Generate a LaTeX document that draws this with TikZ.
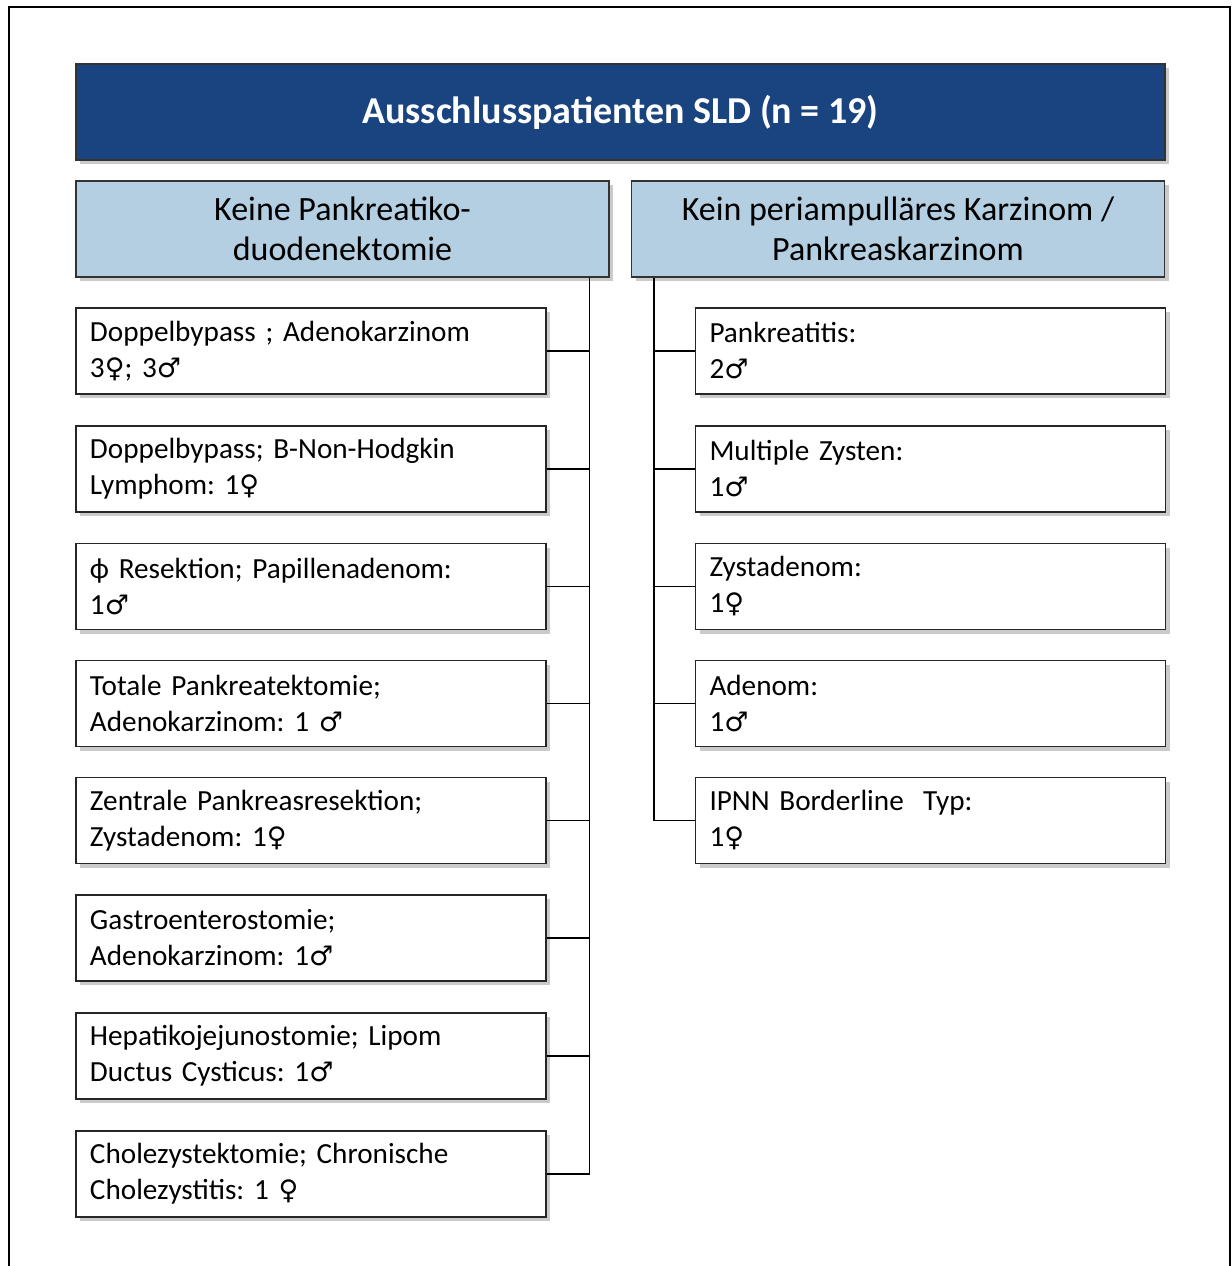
\documentclass[tikz,border=0pt]{standalone}
\usepackage{fontspec}
\setmainfont{Carlito}
\newfontfamily\symfont{DejaVu Sans}
\usetikzlibrary{shadows}
\newcommand\gfem{{\symfont\fontsize{13.5}{18}\selectfont ♀}}
\newcommand\gmal{{\symfont\fontsize{13.5}{18}\selectfont ♂}}
\definecolor{hdrblue}{HTML}{1A4480}
\definecolor{subblue}{HTML}{B4CFE1}
\frenchspacing
\tikzset{
  myshadow/.style={drop shadow={shadow xshift=2pt,shadow yshift=-2pt,opacity=0.35,fill=black!60}},
  hdrbox/.style={draw=black!80,fill=hdrblue,line width=0.6pt,minimum width=544.5pt,minimum height=48pt,
    text=white,font=\fontsize{19}{22}\selectfont\bfseries,myshadow},
  subbox/.style={draw=black!80,fill=subblue,line width=0.6pt,minimum width=266.5pt,minimum height=48pt,
    align=center,font=\fontsize{17}{20}\selectfont,myshadow},
  leafbox/.style={draw=black!85,fill=white,line width=0.6pt,minimum height=43pt,text width=221pt,
    inner xsep=7pt,inner ysep=0pt,align=left,font=\fontsize{14.6}{18}\selectfont,myshadow},
  conn/.style={draw=black,line width=0.6pt}
}
\begin{document}
\begin{tikzpicture}[x=0.5pt,y=-0.5pt]
\useasboundingbox (0,0) rectangle (1232,1266);
\draw[line width=1pt] (9,1270) -- (9,7) -- (1230,7) -- (1230,1270);
\node[hdrbox] (hdr) at (620.5,112) {Ausschlusspatienten SLD (n = 19)};
\node[subbox] (ls) at (342.5,229) {Keine Pankreatiko-\\duodenektomie};
\node[subbox] (rs) at (898,229) {Kein periampulläres Karzinom /\\Pankreaskarzinom};
\node[leafbox] (l1) at (311,351) {Doppelbypass ; Adenokarzinom\\3\gfem; 3\gmal};
\node[leafbox] (l2) at (311,469) {Doppelbypass; B-Non-Hodgkin\\Lymphom: 1\gfem};
\node[leafbox] (l3) at (311,586.5) {ϕ Resektion; Papillenadenom:\\1\gmal};
\node[leafbox] (l4) at (311,703.5) {Totale Pankreatektomie;\\Adenokarzinom: 1 \gmal};
\node[leafbox] (l5) at (311,820.5) {Zentrale Pankreasresektion;\\Zystadenom: 1\gfem};
\node[leafbox] (l6) at (311,938) {Gastroenterostomie;\\Adenokarzinom: 1\gmal};
\node[leafbox] (l7) at (311,1056) {Hepatikojejunostomie; Lipom\\Ductus Cysticus: 1\gmal};
\node[leafbox] (l8) at (311,1174) {Cholezystektomie; Chronische\\Cholezystitis: 1 \gfem};
\node[leafbox] (r1) at (930.5,351) {Pankreatitis:\\2\gmal};
\node[leafbox] (r2) at (930.5,469) {Multiple Zysten:\\1\gmal};
\node[leafbox] (r3) at (930.5,586.5) {Zystadenom:\\1\gfem};
\node[leafbox] (r4) at (930.5,703.5) {Adenom:\\1\gmal};
\node[leafbox] (r5) at (930.5,820.5) {IPNN Borderline~ Typ:\\1\gfem};
\coordinate (lt) at ([xshift=-10pt]ls.south east);
\coordinate (rt) at ([xshift=11.5pt]rs.south west);
\draw[conn] (lt) -- (lt |- l8.east);
\foreach \i in {1,...,8} { \draw[conn] (l\i.east) -- (lt |- l\i.east); }
\draw[conn] (rt) -- (rt |- r5.west);
\foreach \i in {1,...,5} { \draw[conn] (r\i.west) -- (rt |- r\i.west); }
\end{tikzpicture}
\end{document}
